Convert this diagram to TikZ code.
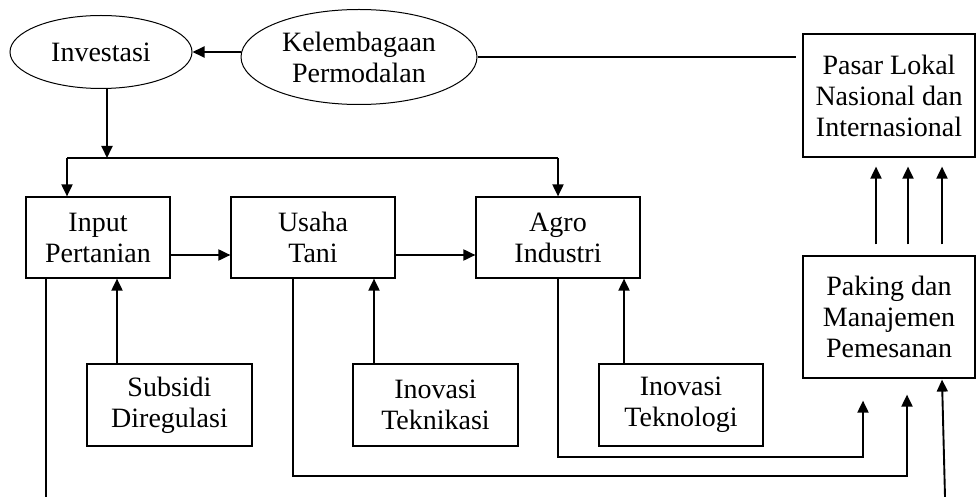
\documentclass[tikz,border=0pt]{standalone}
\usepackage{fontspec}
\setmainfont{Liberation Serif}
\usetikzlibrary{arrows.meta,shapes.geometric}
\begin{document}
\begin{tikzpicture}[x=1pt,y=1pt,
  every node/.style={font=\fontsize{28}{31}\selectfont, align=center, inner sep=0pt},
  box/.style={draw, line width=1.2pt, rectangle},
  oval/.style={draw, line width=1pt, ellipse},
  arr/.style={line width=1.9pt, -{Triangle[length=12pt,width=11pt]}},
  ln/.style={line width=1.2pt}]
\useasboundingbox (0,0) rectangle (976,-497);
% nodes
\node[oval, minimum width=182, minimum height=73] (inv) at (101,-52) {Investasi};
\node[oval, minimum width=236, minimum height=95] (kel) at (359,-57) {Kelembagaan\\Permodalan};
\node[box, minimum width=172, minimum height=123] (pas) at (889,-95.5) {Pasar Lokal\\Nasional dan\\Internasional};
\node[box, minimum width=144, minimum height=81] (inp) at (98,-237.5) {Input\\Pertanian};
\node[box, minimum width=164, minimum height=81] (usa) at (313,-237.5) {Usaha\\Tani};
\node[box, minimum width=164, minimum height=81] (agr) at (558,-237.5) {Agro\\Industri};
\node[box, minimum width=172, minimum height=122] (pak) at (889,-317) {Paking dan\\Manajemen\\Pemesanan};
\node[box, minimum width=165, minimum height=82] (sub) at (169.5,-405) {Subsidi\\Diregulasi};
\node[box, minimum width=165, minimum height=82] (tka) at (435.5,-405) {Inovasi\\Teknikasi};
\node[box, minimum width=164, minimum height=82] (tgi) at (681,-405) {Inovasi\\Teknologi};
% helper coordinates
\coordinate (j) at (107,-158);
\coordinate (jl) at (67,-158);
\coordinate (jr) at (558,-158);
\coordinate (ib) at (46,-497);
\coordinate (pb) at (945,-497);
% connectors
\draw[arr] (inv.east -| kel.west) -- (inv.east);
\draw[line width=1.8pt, shorten >=6pt] (kel.east) -- (kel.east -| pas.west);
\draw[arr] (inv.south -| j) -- (j);
\draw[ln] (jl) -- (jr);
\draw[arr] (jl) -- (jl |- inp.north);
\draw[arr] (jr) -- (agr.north);
\draw[arr] ([yshift=-17.5]inp.east) -- ([yshift=-17.5]usa.west);
\draw[arr] ([yshift=-17.5]usa.east) -- ([yshift=-17.5]agr.west);
\draw[arr] ([xshift=-52.5]sub.north) -- ([xshift=-52.5]sub.north |- inp.south);
\draw[arr] ([xshift=-61.5]tka.north) -- ([xshift=-61.5]tka.north |- usa.south);
\draw[arr] ([xshift=-57]tgi.north) -- ([xshift=-57]tgi.north |- agr.south);
\foreach \dx in {-13,19,53}
  \draw[arr] ([xshift=\dx, yshift=11]pak.north) -- ([xshift=\dx, yshift=-9]pas.south);
\draw[arr] (agr.south) |- (700,-457) -| ([xshift=-26,yshift=-22]pak.south);
\draw[arr] ([xshift=-20]usa.south) |- (700,-476) -| ([xshift=18,yshift=-16]pak.south);
\draw[ln] ([xshift=-52]inp.south) -- (ib);
\draw[arr] (pb) -- ([xshift=53,yshift=-1]pak.south);
\end{tikzpicture}
\end{document}
